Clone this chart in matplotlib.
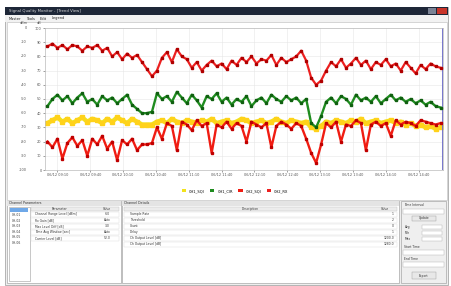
import matplotlib.pyplot as plt
from matplotlib.patches import Rectangle

W, H = 451, 286

# series values (0-100 scale)
red_top = [87, 89, 86, 88, 85, 88, 87, 84, 87, 86, 88,
           84, 86, 80, 83, 78, 82, 79, 81,
           76, 71, 66,
           70, 79, 83, 76, 85, 80,
           78, 72, 76, 70, 74, 77, 73, 75, 71,
           77, 74, 79, 76, 80, 75, 78, 77, 81, 74, 79, 76, 78, 80, 84, 77,
           65, 60, 63, 70,
           76, 73, 78, 72, 75, 79, 74, 77, 71, 76, 74, 78, 73, 75, 70, 76,
           72, 68, 74, 71, 75, 73, 72]
green = [45, 50, 53, 49, 52, 47, 51, 54, 48, 50, 46, 52, 49, 51, 47, 50, 53, 46, 43,
         40, 40, 41,
         54, 50, 52, 48, 55, 51, 47, 53, 49, 44, 52, 50, 54, 48, 51,
         46, 50, 48, 52, 45, 49, 51, 47, 53, 50, 48, 52, 49, 51, 47, 50,
         33, 30, 38,
         48, 51, 47, 52, 50, 46, 53, 49, 51, 48, 52, 47, 50, 53, 49, 51,
         48, 50, 47, 49, 46, 48, 45, 44]
yellow = [33, 35, 37, 34, 36, 33, 35, 37, 34, 36, 35, 33, 36, 34, 37, 35, 33, 36, 34,
          32, 32, 32,
          34, 35, 33, 36, 34, 33, 35, 34, 33, 35, 34, 36, 33, 34, 35, 33,
          34, 36, 35, 33, 34, 35, 33, 34, 36, 34, 33, 35, 34, 33, 34,
          30, 29, 31,
          34, 33, 35, 34, 33, 35, 34, 36, 33, 34, 35, 33, 34, 35, 33, 34,
          32, 33, 31, 32, 30, 31, 29, 30]
red_low = [20, 16, 22, 8, 19, 23, 17, 21, 10, 22, 18, 24, 15, 20, 7, 21, 18, 22, 14,
           18, 18, 19,
           30, 22, 33, 31, 14, 34, 32, 28, 35, 31, 33, 12, 32, 30, 34, 29,
           33, 31, 20, 34, 32, 30, 33, 16, 31, 34, 32, 29, 33, 31, 22,
           12, 5, 18,
           33, 30, 34, 20, 32, 31, 35, 33, 14, 32, 34, 31, 33, 24, 35, 32,
           34, 33, 31, 35, 34, 33, 32, 33]

time_labels = ["06/12 09:10", "06/12 09:40", "06/12 10:10", "06/12 10:40",
               "06/12 11:10", "06/12 11:40", "06/12 12:10", "06/12 12:40",
               "06/12 13:10", "06/12 13:40", "06/12 14:10", "06/12 14:40"]
legend_labels = ["CH1_SQI", "CH1_CIR", "CH2_SQI", "CH2_RX"]
left_rows = ["Channel Range Level [dBm]", "Rx Gain [dB]", "Max Level Diff [dB]",
             "Time Avg Window [sec]", "Carrier Level [dB]"]
left_vals = ["-60", "Auto", "3.0", "Auto", "52.0"]
mid_rows = ["Sample Rate", "Threshold", "Count", "Delay", "Ch Output Level [dB]",
            "Ch Output Level [dB]"]
mid_vals = ["1", "2", "0", "1", "1200.0", "1280.0"]


def box(x, y, w, h, fc, ec="none", lw=0.5):
    fig.add_artist(Rectangle((x / W, 1 - (y + h) / H), w / W, h / H,
                             transform=fig.transFigure, fc=fc, ec=ec, lw=lw))


def label(x, y, s, size=2.6, color="#333333", ha="left"):
    fig.text(x / W, 1 - y / H, s, fontsize=size, color=color, ha=ha, va="center")


fig = plt.figure(figsize=(W / 100, H / 100), dpi=100)
fig.patch.set_facecolor("white")

# window frame
box(5, 7, 443, 278, "#eeeeee", "#9a9a9a")
box(5, 7, 443, 8, "#1e2738")
label(9, 11, "Signal Quality Monitor - [Trend View]", 2.8, "#d8d8d8")
box(428, 8, 8, 6, "#7a8294")
box(437, 8, 10, 6, "#c8352a")
box(5, 15, 443, 7, "#f2f2f2")
for mx, m in zip([9, 26, 40, 52], ["Master", "Tools", "Edit", "Legend"]):
    label(mx, 18.5, m, 2.6, "#222222")
box(7, 22, 440, 178, "white", "#c8c8c8")

# chart
ax = fig.add_axes([45 / W, 1 - 170 / H, 398 / W, 142 / H])
ax.set_zorder(10)
x = list(range(len(red_top)))
ax.plot(x, yellow, color="#f2e21c", lw=3.2, marker="s", ms=2.2,
        mfc="#ffd21a", mec="#ffd21a", zorder=2)
ax.plot(x, green, color="#1f8c1f", lw=1.7, marker="s", ms=2.0,
        mfc="#106010", mec="#106010", zorder=3)
ax.plot(x, red_low, color="#f01c12", lw=1.7, marker="s", ms=2.0,
        mfc="#c00000", mec="#c00000", zorder=4)
ax.plot(x, red_top, color="#ec2020", lw=1.6, marker="s", ms=1.8,
        mfc="#b00000", mec="#b00000", zorder=4)
ax.axvline(len(x) - 0.6, color="#6a6ac8", lw=2)
ax.set_xlim(-0.5, len(x) - 0.5)
ax.set_ylim(0, 100)
ax.set_xticks([2 + i * 6.6 for i in range(len(time_labels))])
ax.set_xticklabels(time_labels)
ax.set_yticks(range(0, 101, 10))
ax.tick_params(labelsize=2.5, length=1.5, width=0.4, colors="#555555", pad=1)
ax.grid(True, color="#e6e6e6", lw=0.4)
for s in ax.spines.values():
    s.set_color("#bbbbbb")
    s.set_linewidth(0.5)
for v in range(0, 101, 10):
    label(27, 170 - v * 1.42, str(v - 100), 2.5, "#555555", "right")
label(20, 23, "dBm", 2.5, "#555555")
label(37, 23, "dB", 2.5, "#555555")

handles = [Rectangle((0, 0), 1, 1, fc=c) for c in
           ["#f2e21c", "#1f8c1f", "#f01c12", "#ec2020"]]
leg = fig.legend(handles, legend_labels, loc="center",
                 bbox_to_anchor=(235 / W, 1 - 191 / H), ncol=4, fontsize=2.6,
                 frameon=False, handlelength=1.2, handleheight=0.8,
                 columnspacing=1.5)
leg.set_zorder(10)

# bottom panels
box(7, 201, 114, 82, "white", "#a8a8a8")
box(7, 201, 114, 5, "#e4e4e4")
label(9, 203.5, "Channel Parameters", 2.3)
box(9, 207, 21, 74, "white", "#b0b0b0")
box(10, 208, 18, 4, "#6fa8e8")
for i in range(6):
    label(12, 215 + i * 5.6, "CH-0%d" % (i + 1), 2.2)
box(31, 207, 88, 4, "#ececec", "#c0c0c0", 0.3)
label(60, 209, "Parameter", 2.2, ha="center")
label(107, 209, "Value", 2.2, ha="center")
for i, (r, v) in enumerate(zip(left_rows, left_vals)):
    yy = 214 + i * 6
    box(31, yy - 2.5, 88, 5, "white", "#dcdcdc", 0.3)
    label(35, yy, r, 2.2)
    label(107, yy, v, 2.2, ha="center")

box(122, 201, 277, 82, "white", "#a8a8a8")
box(122, 201, 277, 5, "#e4e4e4")
label(124, 203.5, "Channel Details", 2.3)
box(124, 207, 273, 4, "#ececec", "#c0c0c0", 0.3)
label(250, 209, "Description", 2.2, ha="center")
label(385, 209, "Value", 2.2, ha="center")
for i, (r, v) in enumerate(zip(mid_rows, mid_vals)):
    yy = 214 + i * 6
    box(124, yy - 2.5, 273, 5, "white", "#dcdcdc", 0.3)
    label(130, yy, r, 2.2)
    label(394, yy, v, 2.2, ha="right")

box(401, 201, 45, 82, "#efefef", "#a8a8a8")
label(404, 205, "Time Interval", 2.2)
box(403, 209, 41, 5, "white", "#b0b0b0", 0.3)
box(412, 216, 24, 5, "#e8e8e8", "#999999", 0.3)
label(424, 218.5, "Update", 2.2, ha="center")
for i, t in enumerate(["Avg", "Min", "Max"]):
    label(405, 227 + i * 6, t, 2.2)
    box(422, 225 + i * 6, 20, 4, "white", "#b0b0b0", 0.3)
label(404, 247, "Start Time", 2.2)
box(403, 250, 41, 5, "white", "#b0b0b0", 0.3)
label(404, 259, "End Time", 2.2)
box(403, 262, 41, 5, "white", "#b0b0b0", 0.3)
box(412, 272, 24, 7, "#e8e8e8", "#999999", 0.3)
label(424, 275.5, "Export", 2.2, ha="center")

plt.savefig("out.png", dpi=100)
plt.close()
